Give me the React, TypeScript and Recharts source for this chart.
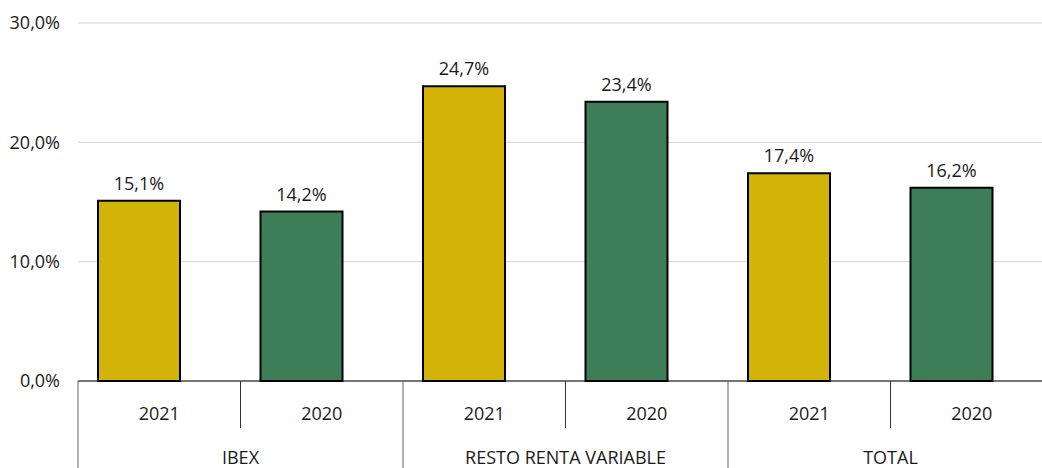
import { BarChart, Bar, XAxis, YAxis, CartesianGrid, Cell, LabelList } from 'recharts';

const years = ['2021', '2020', '2021', '2020', '2021', '2020'];
const groups = ['IBEX', 'IBEX', 'RESTO RENTA VARIABLE', 'RESTO RENTA VARIABLE', 'TOTAL', 'TOTAL'];
const values = [15.1, 14.2, 24.7, 23.4, 17.4, 16.2];
const yTicks = [0, 10, 20, 30];

const YELLOW = '#D3B307';
const GREEN = '#3D7E59';
const FONT = '"Open Sans", sans-serif';
const FS = 18;

const data = values.map((v, i) => ({ year: years[i], group: groups[i], value: v, key: i }));

function pct(v: number) {
  return v.toFixed(1).replace('.', ',') + '%';
}

function YearTick(props: any) {
  const { x, y, payload, index, width, visibleTicksCount } = props;
  const half = width / (2 * visibleTicksCount);
  const left = x - half;
  return (
    <g>
      <line x1={left} x2={left} y1={y} y2={y + 47} stroke={index % 2 === 0 ? '#666' : '#333'} strokeWidth={1} />
      <text x={x} y={y + 39} textAnchor="middle" fontSize={FS} fill="#1a1a1a" fontFamily={FONT}>
        {payload.value}
      </text>
    </g>
  );
}

function GroupTick(props: any) {
  const { x, y, payload, index, width, visibleTicksCount } = props;
  const half = width / (2 * visibleTicksCount);
  const left = x - half;
  return (
    <g>
      {index % 2 === 0 && <line x1={left} x2={left} y1={y} y2={y + 60} stroke="#666" strokeWidth={1} />}
      {index % 2 === 1 && (
        <text x={left} y={y + 36} textAnchor="middle" fontSize={FS} fill="#1a1a1a" fontFamily={FONT}>
          {payload.value}
        </text>
      )}
    </g>
  );
}

function renderLabel(p: any) {
  const { x, y, width, value } = p;
  return (
    <text x={x + width / 2} y={y - 11} textAnchor="middle" fontSize={FS} fill="#1a1a1a" fontFamily={FONT}>
      {pct(value)}
    </text>
  );
}

export default function App() {
  return (
    <div style={{ position: 'absolute', left: 0, top: 0, width: 1042, height: 468, overflow: 'hidden', background: '#fff' }}>
      <BarChart width={1053} height={478} data={data} margin={{ top: 23, right: 0, bottom: 0, left: 0 }}>
        <CartesianGrid vertical={false} stroke="#d4d4d4" />
        <YAxis
          domain={[0, 30]}
          ticks={yTicks}
          width={78}
          axisLine={false}
          tickLine={false}
          tickSize={0}
          tickMargin={18}
          tickFormatter={pct}
          tick={{ fontSize: FS, fill: '#1a1a1a', fontFamily: FONT }}
        />
        <XAxis
          dataKey="year"
          height={47}
          interval={0}
          axisLine={{ stroke: '#000', strokeWidth: 1 }}
          tickLine={false}
          tickSize={0}
          tickMargin={0}
          tick={<YearTick />}
        />
        <XAxis
          xAxisId="group"
          dataKey="group"
          height={50}
          interval={0}
          axisLine={false}
          tickLine={false}
          tickSize={0}
          tickMargin={0}
          tick={<GroupTick />}
        />
        <XAxis xAxisId="bars" dataKey="key" hide height={0} padding={{ left: -20, right: 20 }} />
        <Bar dataKey="value" xAxisId="bars" barSize={82} stroke="#000" strokeWidth={2} isAnimationActive={false}>
          {data.map((d, i) => (
            <Cell key={d.key} fill={i % 2 === 0 ? YELLOW : GREEN} />
          ))}
          <LabelList dataKey="value" content={renderLabel} />
        </Bar>
      </BarChart>
    </div>
  );
}
